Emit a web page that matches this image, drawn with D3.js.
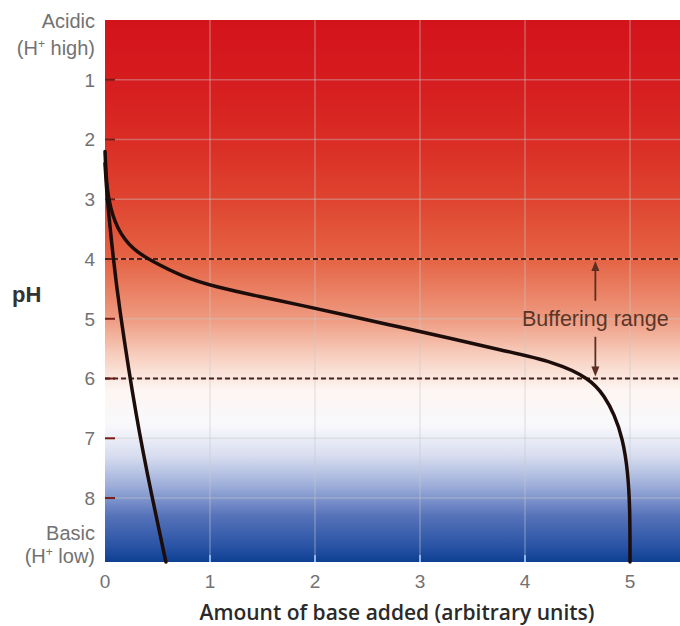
<!DOCTYPE html>
<html>
  <head>
    <meta charset="utf-8">
    <style>
      body {
        margin: 0;
        background: #fff;
        font-family: "Liberation Sans", Arial, sans-serif;
      }
      .ticklabel { fill: #727272; font-size: 19px; }
      .sidelabel { fill: #727272; font-size: 20px; }
      .curve { fill: none; stroke: #1c0c0a; stroke-width: 3.5; stroke-linecap: round; }
      .dash { stroke: #4a2018; stroke-width: 2; stroke-dasharray: 5 3; }
    </style>
  </head>
  <body>
    <script src="https://d3js.org/d3.v7.min.js"></script>
    <script>
      var width = 680, height = 626;

      // axis ticks
      var xTicks = [0, 1, 2, 3, 4, 5];
      var yTicks = [1, 2, 3, 4, 5, 6, 7, 8];

      // buffered solution (amount of base, pH)
      var bufferedX  = [0, 0.01, 0.03, 0.11, 0.27, 0.43, 0.74, 1.06, 1.48, 1.86, 2.3, 2.81, 3.3, 3.76, 4.28, 4.62, 4.76, 4.85, 4.93, 4.98, 5.0, 5.0];
      var bufferedPH = [2.2, 2.6, 3.0, 3.5, 3.85, 4.02, 4.3, 4.47, 4.63, 4.77, 4.94, 5.14, 5.33, 5.52, 5.72, 6.0, 6.3, 6.6, 7.0, 7.55, 8.2, 9.07];

      // unbuffered solution
      var plainX  = [0, 0.02, 0.08, 0.125, 0.30, 0.45, 0.58];
      var plainPH = [2.4, 3.0, 4.0, 4.69, 6.7, 8.0, 9.07];

      // buffering range (pH)
      var bufferLow = 4, bufferHigh = 6, bufferArrowX = 4.67;

      // background gradient: pH stops and colours
      var bgStops  = [0, 1, 2, 3, 4, 5, 5.6, 6.2, 6.8, 7.3, 7.8, 8.3, 8.8, 9.07];
      var bgColors = ["#d3131b", "#d61c1f", "#da2c24", "#df4430", "#e56344", "#ee9a80", "#f7cdbd", "#fdf6f2", "#f8f8fc", "#d7ddef", "#9cadd9", "#5672b9", "#2a54a6", "#0d3f92"];

      var x = d3.scaleLinear().domain([0, 5.476]).range([105, 680]);
      var y = d3.scaleLinear().domain([0, 9.07]).range([20, 562]);

      var svg = d3.select("body").append("svg")
          .attr("width", width)
          .attr("height", height);

      var defs = svg.append("defs");
      var grad = defs.append("linearGradient")
          .attr("id", "bg")
          .attr("x1", 0).attr("y1", 0).attr("x2", 0).attr("y2", 1);
      bgStops.forEach(function(s, i) {
        grad.append("stop")
            .attr("offset", (s / 9.07 * 100) + "%")
            .attr("stop-color", bgColors[i]);
      });

      // plot background
      svg.append("rect")
          .attr("x", x(0))
          .attr("y", y(0))
          .attr("width", x(5.476) - x(0))
          .attr("height", y(9.07) - y(0))
          .attr("fill", "url(#bg)");

      // faint grid
      svg.append("g").selectAll("line")
          .data(yTicks)
        .enter().append("line")
          .attr("x1", x(0)).attr("x2", x(5.476))
          .attr("y1", function(d) { return y(d); })
          .attr("y2", function(d) { return y(d); })
          .attr("stroke", "rgba(200,200,200,0.4)")
          .attr("stroke-width", 1.5);

      svg.append("g").selectAll("line")
          .data(xTicks.slice(1))
        .enter().append("line")
          .attr("y1", y(0)).attr("y2", y(9.07))
          .attr("x1", function(d) { return x(d); })
          .attr("x2", function(d) { return x(d); })
          .attr("stroke", "rgba(200,200,200,0.4)")
          .attr("stroke-width", 1.5);

      // left ticks
      svg.append("g").selectAll("line")
          .data(yTicks)
        .enter().append("line")
          .attr("x1", x(0)).attr("x2", x(0) + 10)
          .attr("y1", function(d) { return y(d); })
          .attr("y2", function(d) { return y(d); })
          .attr("stroke", "#7a1a14")
          .attr("stroke-width", 2);

      // bottom ticks
      svg.append("g").selectAll("line")
          .data(xTicks.slice(1))
        .enter().append("line")
          .attr("x1", function(d) { return x(d); })
          .attr("x2", function(d) { return x(d); })
          .attr("y1", y(9.07)).attr("y2", y(9.07) - 7)
          .attr("stroke", "#8fb4ec")
          .attr("stroke-width", 2);

      // dashed lines for buffering range
      svg.append("g").selectAll("line")
          .data([bufferLow, bufferHigh])
        .enter().append("line")
          .attr("class", "dash")
          .attr("x1", x(0)).attr("x2", x(5.476))
          .attr("y1", function(d) { return y(d); })
          .attr("y2", function(d) { return y(d); });

      // curves
      var line = d3.line()
          .x(function(d) { return x(d[0]); })
          .y(function(d) { return y(d[1]); })
          .curve(d3.curveBasis);

      svg.append("path")
          .datum(plainX.map(function(v, i) { return [v, plainPH[i]]; }))
          .attr("class", "curve")
          .attr("d", line);

      svg.append("path")
          .datum(bufferedX.map(function(v, i) { return [v, bufferedPH[i]]; }))
          .attr("class", "curve")
          .attr("d", line);

      // buffering range arrow + label
      var ax = x(bufferArrowX), mid = (bufferLow + bufferHigh) / 2;
      var arrowColor = "#5c2e22";
      svg.append("line")
          .attr("x1", ax).attr("x2", ax)
          .attr("y1", y(bufferLow) + 8).attr("y2", y(mid) - 18)
          .attr("stroke", arrowColor).attr("stroke-width", 1.8);
      svg.append("line")
          .attr("x1", ax).attr("x2", ax)
          .attr("y1", y(mid) + 18).attr("y2", y(bufferHigh) - 8)
          .attr("stroke", arrowColor).attr("stroke-width", 1.8);
      svg.append("path")
          .attr("d", "M" + ax + "," + (y(bufferLow) + 2) + "l-4,10h8z")
          .attr("fill", arrowColor);
      svg.append("path")
          .attr("d", "M" + ax + "," + (y(bufferHigh) - 2) + "l-4,-10h8z")
          .attr("fill", arrowColor);
      svg.append("text")
          .attr("x", ax)
          .attr("y", y(mid))
          .attr("dy", "0.35em")
          .attr("text-anchor", "middle")
          .attr("fill", "#5a3628")
          .style("font-size", "21.5px")
          .text("Buffering range");

      // y tick labels
      svg.append("g").selectAll("text")
          .data(yTicks)
        .enter().append("text")
          .attr("class", "ticklabel")
          .attr("x", 95)
          .attr("y", function(d) { return y(d); })
          .attr("dy", "0.36em")
          .attr("text-anchor", "end")
          .text(function(d) { return d; });

      // x tick labels
      svg.append("g").selectAll("text")
          .data(xTicks)
        .enter().append("text")
          .attr("class", "ticklabel")
          .attr("x", function(d) { return x(d); })
          .attr("y", 588)
          .attr("text-anchor", "middle")
          .text(function(d) { return d; });

      // end labels
      function sideLabel(lines, ys) {
        lines.forEach(function(t, i) {
          var txt = svg.append("text")
              .attr("class", "sidelabel")
              .attr("x", 95)
              .attr("y", ys[i])
              .attr("text-anchor", "end");
          if (t.indexOf("+") >= 0) {
            var parts = t.split("+");
            txt.append("tspan").text(parts[0]);
            txt.append("tspan").attr("dy", -7).style("font-size", "12px").text("+");
            txt.append("tspan").attr("dy", 7).text(parts[1]);
          } else {
            txt.text(t);
          }
        });
      }
      sideLabel(["Acidic", "(H+ high)"], [28, 55]);
      sideLabel(["Basic", "(H+ low)"], [540, 563]);

      // axis titles
      svg.append("text")
          .attr("x", 12)
          .attr("y", 302)
          .attr("fill", "#333")
          .style("font-size", "22px")
          .style("font-weight", "bold")
          .text("pH");

      svg.append("text")
          .attr("x", 397)
          .attr("y", 620)
          .attr("text-anchor", "middle")
          .attr("fill", "#2a2a2a")
          .style("font-family", "'Open Sans', sans-serif")
          .style("font-size", "21px")
          .style("font-weight", 600)
          .text("Amount of base added (arbitrary units)");
    </script>
  </body>
</html>
